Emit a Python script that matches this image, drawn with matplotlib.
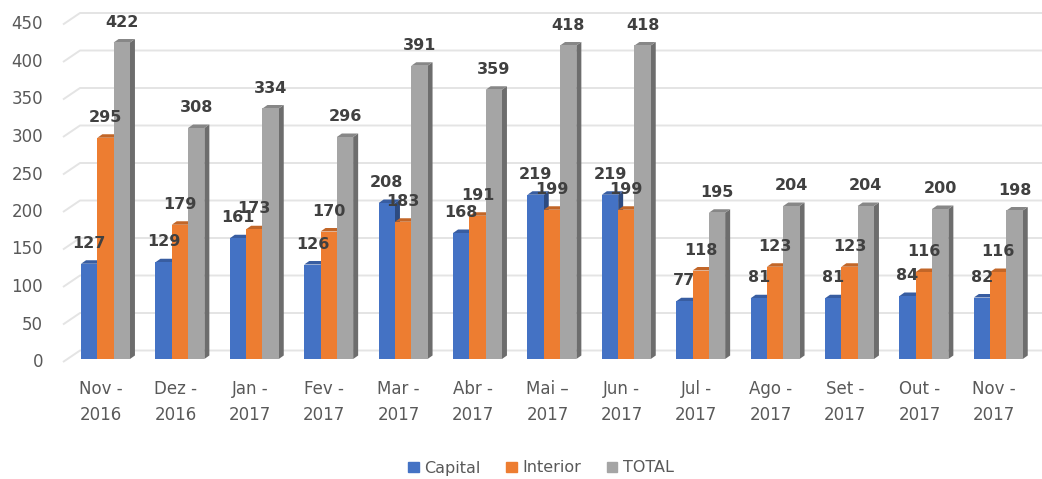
import numpy as np
import matplotlib.pyplot as plt
from matplotlib.patches import Polygon, Patch
from matplotlib.colors import to_rgb

# data
months = ["Nov -\n2016", "Dez -\n2016", "Jan -\n2017", "Fev -\n2017", "Mar -\n2017",
          "Abr -\n2017", "Mai \u2013\n2017", "Jun -\n2017", "Jul -\n2017", "Ago -\n2017",
          "Set -\n2017", "Out -\n2017", "Nov -\n2017"]
capital = [127, 129, 161, 126, 208, 168, 219, 219, 77, 81, 81, 84, 82]
interior = [295, 179, 173, 170, 183, 191, 199, 199, 118, 123, 123, 116, 116]
total = [422, 308, 334, 296, 391, 359, 418, 418, 195, 204, 204, 200, 198]
series_names = ["Capital", "Interior", "TOTAL"]
yticks = [0, 50, 100, 150, 200, 250, 300, 350, 400, 450]

colors = ["#4472C4", "#ED7D31", "#A5A5A5"]

W, H = 1042, 479
fig = plt.figure(figsize=(W / 100, H / 100), dpi=100)

# pixel layout: group i centre at 105.5 + 74.4*i, value 0 at y=359, 0.75 px per unit
px_per_cat = 74.4
px_per_val = 0.75
left_px, right_px = 60, 1042
top_px, bot_px = 5, 372
x0 = (left_px - 105.5) / px_per_cat
x1 = (right_px - 105.5) / px_per_cat
y0 = -(bot_px - 359) / px_per_val
y1 = (359 - top_px) / px_per_val
ax = fig.add_axes([left_px / W, 1 - bot_px / H, (right_px - left_px) / W, (bot_px - top_px) / H])
ax.set_xlim(x0, x1)
ax.set_ylim(y0, y1)
ax.axis("off")

# 3d-ish gridlines: front point -> back wall
front_dx = (63 - 105.5) / px_per_cat
back_dx = (80 - 105.5) / px_per_cat
front_dy = -3 / px_per_val
back_dy = 8.5 / px_per_val
for v in yticks:
    ax.plot([front_dx, back_dx, x1], [v + front_dy, v + back_dy, v + back_dy],
            color="#e4e4e4", lw=1.4, zorder=0, clip_on=False, solid_capstyle="butt")
    ax.text(-(105.5 - 43) / px_per_cat, v + front_dy, str(v), ha="right", va="center",
            fontsize=12, color="#595959")


def shade(c, f):
    r, g, b = to_rgb(c)
    return (r * f, g * f, b * f)


bw = 16.3 / px_per_cat
dx = 5 / px_per_cat
dy = 3.5 / px_per_val
x = np.arange(len(months))
for k, vals in enumerate([capital, interior, total]):
    c = colors[k]
    for i, v in enumerate(vals):
        xc = x[i] + (k - 1) * bw
        xl, xr = xc - bw / 2, xc + bw / 2
        ax.add_patch(Polygon([(xr, 0), (xr + dx, dy), (xr + dx, v + dy), (xr, v)],
                             closed=True, fc=shade(c, 0.66), ec="none", zorder=2 + k))
        ax.add_patch(Polygon([(xl, v), (xr, v), (xr + dx, v + dy), (xl + dx, v + dy)],
                             closed=True, fc=shade(c, 0.82), ec="none", zorder=2 + k))
        ax.bar(xc, v, width=bw, color=c, zorder=2 + k, linewidth=0)
        ax.annotate(str(v), (xc, v), xytext=(0, 11.5), textcoords="offset points",
                    ha="center", va="baseline", fontsize=11.5, fontweight="bold",
                    color="#404040", zorder=10)

for i, lab in enumerate(months):
    ax.text(x[i] - 4.5 / px_per_cat, (359 - 402) / px_per_val, lab, ha="center", va="center",
            fontsize=12, color="#595959", linespacing=1.5)

handles = [Patch(color=c, label=n) for c, n in zip(colors, series_names)]
fig.legend(handles=handles, loc="center", bbox_to_anchor=(541 / W, 1 - 468 / H), ncol=3,
           frameon=False, fontsize=11.5, handlelength=0.65, handleheight=0.65,
           handletextpad=0.35, columnspacing=1.6, labelcolor="#595959")

fig.savefig("out.png", dpi=100)
